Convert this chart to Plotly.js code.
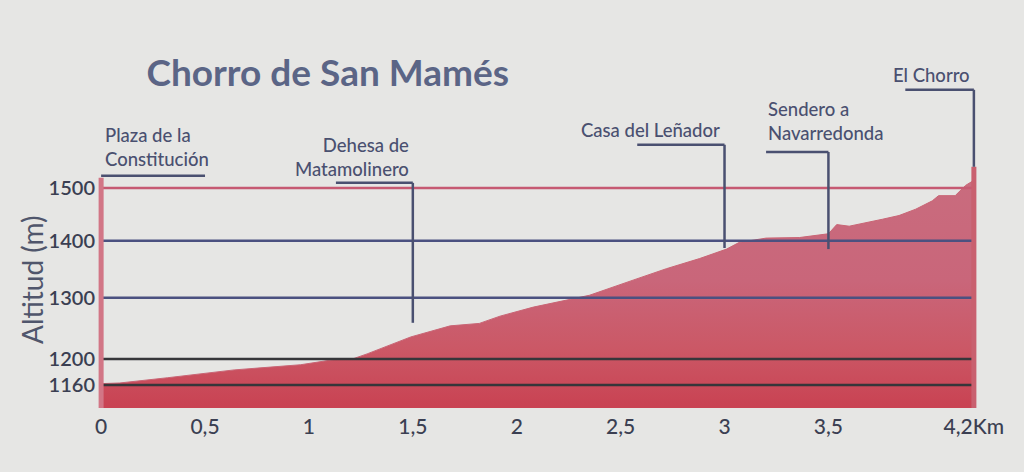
<!DOCTYPE html>
<html>
<head>
<meta charset="utf-8">
<script src="https://cdn.plot.ly/plotly-3.0.1.min.js"></script>
<style>
  html, body { margin: 0; padding: 0; background: #e6e6e4; }
  #chart { width: 1024px; height: 472px; }
</style>
</head>
<body>
<div id="chart"></div>
<script>
// ---------- data ----------
const profileKm = [0, 0.09, 0.32, 0.64, 0.96, 1.12, 1.21, 1.28, 1.49, 1.68, 1.82, 1.92, 2.08, 2.24, 2.35, 2.56, 2.72, 2.88, 3.01, 3.07, 3.20, 3.36, 3.50, 3.54, 3.60, 3.76, 3.84, 3.92, 4.00, 4.03, 4.11, 4.16, 4.20];
const profileElev = [1162, 1163, 1171, 1183, 1191, 1199, 1200, 1208, 1235, 1253, 1257, 1269, 1284, 1296, 1304, 1330, 1350, 1368, 1385, 1397, 1405, 1406, 1413, 1430, 1427, 1440, 1447, 1459, 1475, 1485, 1485, 1505, 1515];

const yTickVals = [1160, 1200, 1300, 1400, 1500];
const xTickVals = [0, 0.5, 1, 1.5, 2, 2.5, 3, 3.5, 4.2];
const xTickText = ["0", "0,5", "1", "1,5", "2", "2,5", "3", "3,5", "4,2Km"];

const markerNames = ["Plaza de la<br>Constitución", "Dehesa de<br>Matamolinero", "Casa del Leñador", "Sendero a<br>Navarredonda", "El Chorro"];
const markerKm = [0, 1.5, 3.0, 3.5, 4.2];
const markerGround = [1162, 1258, 1387, 1385, 1542];

// ---------- layout / style ----------
const gridColors = ["#36363a", "#36363a", "#4b5180", "#4b5180", "#c65a72"];
// leader geometry: top elevation of leader, horizontal arm end (km), label placement
const leaderTop = [1524, 1510, 1587, 1572, 1705];
const leaderArm = [0.5, 1.13, 2.58, 3.2, 3.87];
const labelY = [0.75, 0.721, 0.799, 0.825, 0.957];
const labelAnchor = ["left", "right", "right", "left", "right"];

const slate = "#4a5070";
const textDark = "#3b3f52";
const FONT = "Lato, 'Open Sans', sans-serif";

const shapes = [];
yTickVals.forEach((v, i) => {
  shapes.push({type: "line", xref: "x", yref: "y", x0: 0, x1: 4.2, y0: v, y1: v,
    line: {color: gridColors[i], width: 2.5}, layer: "above"});
});
// frame edges in red
shapes.push({type: "line", xref: "x", yref: "y", x0: 0, x1: 0, y0: 1100, y1: 1520,
  line: {color: "#d27686", width: 5}, layer: "above"});
shapes.push({type: "line", xref: "x", yref: "y", x0: 4.2, x1: 4.2, y0: 1100, y1: 1542,
  line: {color: "#c9606f", width: 5}, layer: "above"});

markerKm.forEach((km, i) => {
  shapes.push({type: "line", xref: "x", yref: "y", x0: leaderArm[i], x1: km, y0: leaderTop[i], y1: leaderTop[i],
    line: {color: slate, width: 2.5}, layer: "above"});
  if (i > 0) {
    shapes.push({type: "line", xref: "x", yref: "y", x0: km, x1: km, y0: markerGround[i], y1: leaderTop[i],
      line: {color: slate, width: 2.5}, layer: "above"});
  }
});

const annotations = markerNames.map((name, i) => ({
  text: name, xref: "x", yref: "paper",
  x: labelAnchor[i] === "left" ? markerKm[i] + (i === 3 ? -0.3 : 0.01) : markerKm[i] - 0.01,
  y: labelY[i], xanchor: labelAnchor[i], yanchor: "middle", align: labelAnchor[i],
  showarrow: false, font: {family: FONT, size: 18.5, color: slate, weight: 500}
}));
annotations.push({
  text: "Altitud (m)", xref: "paper", yref: "paper", x: -0.075, y: 0.368,
  xanchor: "center", yanchor: "middle", textangle: -90, showarrow: false,
  font: {family: FONT, size: 28, color: "#50566c"}
});

const trace = {
  type: "scatter", mode: "lines", x: profileKm, y: profileElev,
  fill: "tozeroy",
  fillcolor: "#c95f6f",
  fillgradient: {type: "vertical", start: 1130, stop: 1520,
    colorscale: [[0, "#c94353"], [0.25, "#cb5866"], [0.55, "#c9667a"], [1, "#c96c7e"]]},
  line: {color: "#c96575", width: 1},
  hoverinfo: "skip"
};

const layout = {
  width: 1024, height: 472,
  paper_bgcolor: "#e6e6e4", plot_bgcolor: "#e6e6e4",
  margin: {l: 98, r: 47, t: 60, b: 64},
  showlegend: false,
  title: {text: "Chorro de San Mamés", xref: "container", yref: "container",
    x: 0.143, xanchor: "left", y: 0.845, yanchor: "middle",
    font: {family: FONT, size: 37, color: "#5b6586", weight: 700}},
  xaxis: {range: [-0.015, 4.215], tickvals: xTickVals, ticktext: xTickText,
    showgrid: false, zeroline: false, showline: false, ticks: "",
    ticklabelstandoff: 4,
    tickfont: {family: FONT, size: 21, color: textDark, weight: 500}},
  yaxis: {type: "log", range: [3.0514, 3.2486], tickvals: yTickVals, ticktext: yTickVals.map(String),
    showgrid: false, zeroline: false, showline: false, ticks: "",
    ticklabelstandoff: 2,
    tickfont: {family: FONT, size: 20, color: textDark, weight: 600}},
  shapes: shapes,
  annotations: annotations
};

Plotly.newPlot("chart", [trace], layout, {displayModeBar: false, staticPlot: true});
</script>
</body>
</html>
